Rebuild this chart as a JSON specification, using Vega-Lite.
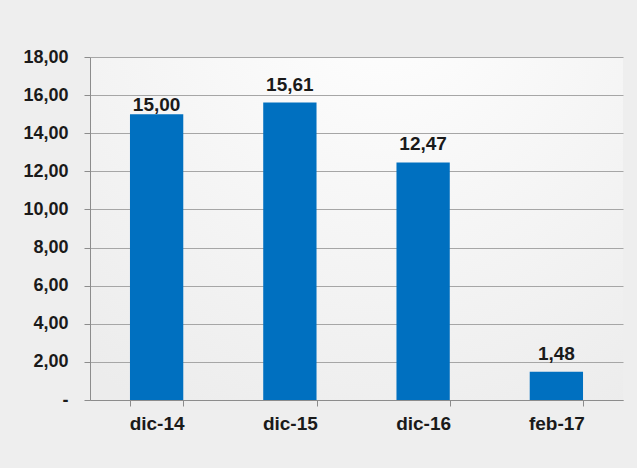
{
  "$schema": "https://vega.github.io/schema/vega-lite/v6.json",
  "width": 533,
  "height": 343,
  "autosize": {"type": "none"},
  "padding": {"left": 90, "top": 57, "right": 14, "bottom": 68},
  "background": "#eeeeee",
  "config": {
    "view": {"stroke": null, "fill": {"gradient": "radial", "x1": 0.55, "y1": 0.05, "x2": 0.55, "y2": 0.05, "r1": 0, "r2": 0.9, "stops": [{"offset": 0, "color": "#ffffff"}, {"offset": 1, "color": "#ececec"}]}},
    "font": "Liberation Sans",
    "locale": {"number": {"decimal": ",", "thousands": ".", "grouping": [3], "currency": ["", " €"]}}
  },
  "data": {"values": [
    {"periodo": "dic-14", "valor": 15.00},
    {"periodo": "dic-15", "valor": 15.61},
    {"periodo": "dic-16", "valor": 12.47},
    {"periodo": "feb-17", "valor": 1.48}
  ]},
  "encoding": {
    "x": {"field": "periodo", "type": "nominal", "sort": null,
      "scale": {"paddingInner": 0.6, "paddingOuter": 0.3},
      "axis": {"title": null, "labelAngle": 0, "labelFont": "Liberation Sans", "labelFontWeight": "bold", "labelFontSize": 19, "labelColor": "#1a1a1a", "labelPadding": 8, "tickBand": "extent", "tickSize": 6, "tickColor": "#8c8c8c", "domainColor": "#8c8c8c", "grid": false}},
    "y": {"field": "valor", "type": "quantitative",
      "scale": {"domain": [0, 18], "nice": false},
      "axis": {"title": null, "values": [0, 2, 4, 6, 8, 10, 12, 14, 16, 18],
        "labelExpr": "datum.value == 0 ? '-' : format(datum.value, '.2f')",
        "labelFont": "Liberation Sans", "labelFontWeight": "bold", "labelFontSize": 18, "labelColor": "#1a1a1a", "labelPadding": 16, "tickSize": 6, "tickColor": "#8c8c8c", "domainColor": "#8c8c8c", "gridColor": "#a6a6a6", "grid": true,
        "encode": {"labels": {"update": {"dx": {"signal": "datum.value == 0 ? -20 : 0"}}}}}}
  },
  "layer": [
    {"mark": {"type": "bar", "color": "#0070c0"}},
    {"mark": {"type": "text", "baseline": "bottom", "dy": {"expr": "datum.periodo == 'dic-14' ? 1 : -8"}, "font": "Liberation Sans", "fontWeight": "bold", "fontSize": 19, "color": "#1a1a1a"},
      "encoding": {"text": {"field": "valor", "type": "quantitative", "format": ".2f"}}}
  ]
}
